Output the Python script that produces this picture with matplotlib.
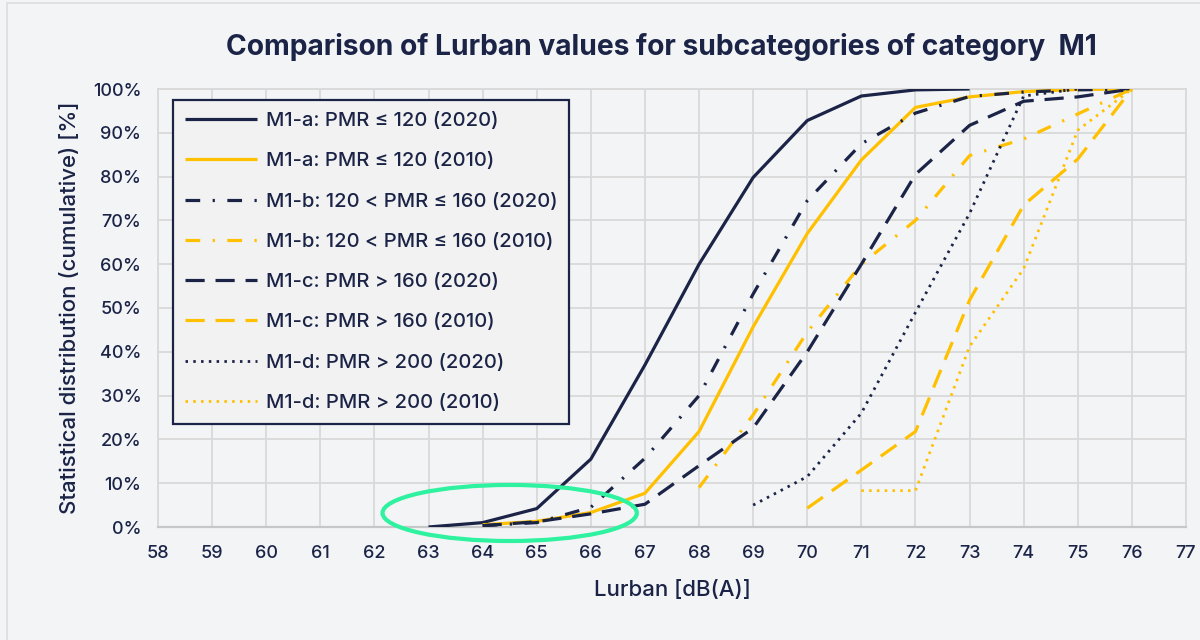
import numpy as np
import matplotlib
matplotlib.use("Agg")
import matplotlib.pyplot as plt
from matplotlib.patches import Ellipse, Rectangle
from matplotlib.ticker import PercentFormatter

plt.rcParams['font.family'] = ['Inter', 'DejaVu Sans']

# ---- data (cumulative share, %) ----
lurban = [63, 64, 65, 66, 67, 68, 69, 70, 71, 72, 73, 74, 75, 76]
nan = np.nan
m1a_2020 = [0.0, 1.0, 4.2, 15.5, 37.0, 60.0, 79.8, 92.8, 98.4, 99.8, 100.0, nan, nan, nan]
m1a_2010 = [nan, 0.5, 1.3, 3.3, 7.7, 21.8, 45.7, 67.0, 83.8, 95.8, 98.2, 99.4, 99.9, 100.0]
m1b_2020 = [nan, 0.3, 1.0, 4.5, 15.7, 30.0, 53.2, 74.5, 87.5, 94.5, 98.3, 99.3, 99.8, 100.0]
m1b_2010 = [nan, nan, nan, nan, nan, 9.0, 25.6, 44.5, 60.0, 70.0, 84.8, 88.6, 94.3, 100.0]
m1c_2020 = [nan, 0.3, 1.2, 3.0, 5.2, 14.0, 22.6, 40.0, 60.0, 80.5, 91.7, 97.2, 98.2, 100.0]
m1c_2010 = [nan, nan, nan, nan, nan, nan, nan, 4.3, 13.0, 21.8, 51.8, 73.5, 84.0, 100.0]
m1d_2020 = [nan, nan, nan, nan, nan, nan, 5.0, 11.5, 26.0, 49.0, 71.6, 98.4, 100.0, nan]
m1d_2010 = [nan, nan, nan, nan, nan, nan, nan, nan, 8.3, 8.3, 41.2, 59.0, 90.6, 100.0]

labels = [
    "M1-a: PMR ≤ 120 (2020)",
    "M1-a: PMR ≤ 120 (2010)",
    "M1-b: 120 < PMR ≤ 160 (2020)",
    "M1-b: 120 < PMR ≤ 160 (2010)",
    "M1-c: PMR > 160 (2020)",
    "M1-c: PMR > 160 (2010)",
    "M1-d: PMR > 200 (2020)",
    "M1-d: PMR > 200 (2010)",
]
x_ticks = list(range(58, 78))

NAVY = '#1b2447'
GOLD = '#ffc000'
BG = '#f3f4f6'
GRID = '#d9d9d9'

fig = plt.figure(figsize=(12, 6.4), dpi=100)
fig.patch.set_facecolor(BG)
# faint outer frame of the screenshot
fig.add_artist(Rectangle((7/1200, -0.05), 1.2, 1 - 3/640 + 0.05, transform=fig.transFigure,
                         fill=False, ec='#dcdde0', lw=1.2))

ax = fig.add_axes([158/1200, 1 - 527/640, (1186 - 158)/1200, (527 - 89)/640])
ax.set_facecolor(BG)

series = [m1a_2020, m1a_2010, m1b_2020, m1b_2010, m1c_2020, m1c_2010, m1d_2020, m1d_2010]
colors = [NAVY, GOLD] * 4
dashdot = (0, (4.6, 3.9, 0.7, 3.9))
dashed = (0, (6.0, 3.4))
dotted = (0, (0.9, 1.9))
styles = ['-', '-', dashdot, dashdot, dashed, dashed, dotted, dotted]
widths = [2.3, 2.3, 2.3, 2.3, 2.3, 2.3, 2.0, 2.0]

x = np.array(lurban, dtype=float)
for s, c, ls, lw, lab in zip(series, colors, styles, widths, labels):
    y = np.array(s, dtype=float) / 100.0
    ax.plot(x, y, color=c, ls=ls, lw=lw, label=lab, dash_capstyle='butt',
            solid_capstyle='butt', zorder=3)

ax.set_xlim(58, 77)
ax.set_ylim(0, 1.0)
ax.set_xticks(x_ticks)
ax.set_yticks(np.arange(0, 1.01, 0.1))
ax.yaxis.set_major_formatter(PercentFormatter(1.0, decimals=0))
ax.grid(True, color=GRID, lw=1.3, zorder=0)
ax.set_axisbelow(True)
for side in ['top', 'right', 'left']:
    ax.spines[side].set_color(GRID)
    ax.spines[side].set_linewidth(1.3)
ax.spines['bottom'].set_color('#c6c7c9')
ax.spines['bottom'].set_linewidth(1.6)
ax.tick_params(axis='both', length=0, labelsize=13, labelcolor=NAVY)
ax.tick_params(axis='x', pad=13)
ax.tick_params(axis='y', pad=12)
for t in ax.get_xticklabels() + ax.get_yticklabels():
    t.set_fontweight('medium')

ax.set_xlabel("Lurban [dB(A)]", fontsize=16, color=NAVY, labelpad=13, fontweight='medium')
ax.set_ylabel("Statistical distribution (cumulative) [%]", fontsize=16, color=NAVY,
              labelpad=9, fontweight='medium')

fig.text(661/1200, 1 - 47/640, "Comparison of Lurban values for subcategories of category  M1",
         ha='center', va='center', fontsize=20.3, fontweight='bold', color=NAVY)

leg = ax.legend(loc='upper left', bbox_to_anchor=(173/1200, 1 - 100/640),
                bbox_transform=fig.transFigure, fontsize=14.5, frameon=True,
                fancybox=False, framealpha=1, facecolor='#f2f2f2', edgecolor=NAVY,
                handlelength=3.55, handletextpad=0.45, labelspacing=1.1,
                borderpad=0.6, borderaxespad=0)
leg.get_frame().set_linewidth(1.6)
for t in leg.get_texts():
    t.set_color(NAVY)
    t.set_fontweight('medium')
leg.set_zorder(6)

ell = Ellipse((64.5, 0.032), width=4.7, height=0.128, transform=ax.transData,
              fill=False, ec='#2ef2a0', lw=3, clip_on=False, zorder=5)
ax.add_patch(ell)

fig.savefig("out.png", dpi=100, facecolor=BG)
